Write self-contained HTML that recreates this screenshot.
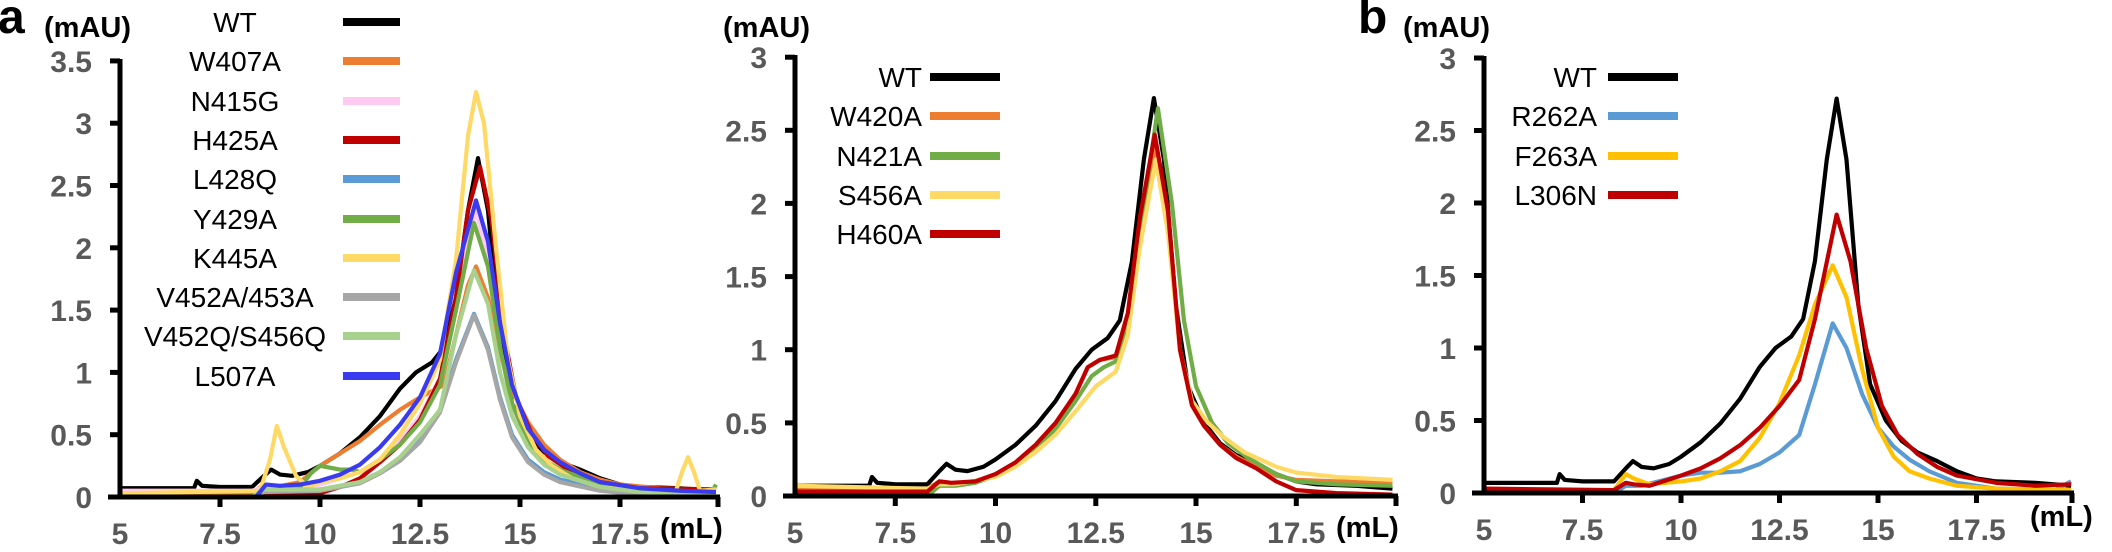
<!DOCTYPE html>
<html><head><meta charset="utf-8"><style>
html,body{margin:0;padding:0;background:#fff;}
svg{display:block}
.tk{font-family:"Liberation Sans",sans-serif;font-weight:bold;font-size:30px;fill:#595959;}
.un{font-family:"Liberation Sans",sans-serif;font-weight:bold;font-size:29px;fill:#000;}
.lg{font-family:"Liberation Sans",sans-serif;font-size:28px;fill:#000;}
.big{font-family:"Liberation Sans",sans-serif;font-weight:bold;font-size:48px;fill:#000;}
polyline{fill:none;stroke-width:4.2;stroke-linejoin:round;vector-effect:non-scaling-stroke;}
.ax line{stroke:#000;stroke-width:5;}
</style></head><body>
<svg width="2112" height="552" viewBox="0 0 2112 552" xmlns="http://www.w3.org/2000/svg">
<text class="big" x="-2" y="33">a</text>
<text class="un" x="44" y="37">(mAU)</text>
<text class="un" x="723" y="37">(mAU)</text>
<text class="big" x="1358" y="33">b</text>
<text class="un" x="1403" y="37">(mAU)</text>

<!-- Panel a curves -->
<g transform="translate(-80,497) scale(40,-124.6)">
<polyline stroke="#000" points="5,.07 6.85,.07 6.92,.13 7.05,.09 7.5,.08 8.3,.08 8.6,.17 8.78,.22 9,.18 9.3,.17 9.7,.2 10,.25 10.5,.35 11,.48 11.5,.65 12,.87 12.4,1 12.8,1.08 13.1,1.2 13.4,1.6 13.7,2.3 13.95,2.72 14.2,2.3 14.5,1.3 14.8,.75 15.2,.5 15.6,.36 16,.28 16.5,.22 17,.15 17.5,.1 18,.08 19,.07 19.9,.05"/>
<polyline stroke="#ed7d31" points="5,.03 8.3,.03 8.6,.1 8.9,.08 9.5,.12 10,.25 10.5,.35 11,.45 11.5,.58 12,.7 12.5,.8 12.8,.85 13.1,.9 13.4,1.3 13.7,1.7 13.9,1.85 14.2,1.6 14.5,1.15 14.8,.85 15.2,.6 15.6,.42 16,.3 16.5,.2 17,.14 17.5,.1 18.5,.07 19.9,.06"/>
<polyline stroke="#ffc9f2" points="5,.05 8.3,.05 8.6,.08 9,.07 10,.1 11,.2 11.5,.3 12,.45 12.5,.65 13,.95 13.4,1.5 13.7,2.1 13.9,2.3 14.2,1.9 14.5,1.2 14.8,.7 15.2,.42 15.6,.28 16,.2 16.5,.14 17.5,.06 19.9,.03"/>
<polyline stroke="#c00000" points="5,0 8.4,0 8.6,.03 10,.03 10.5,.08 11,.15 11.5,.28 12,.42 12.5,.62 13,.95 13.4,1.6 13.7,2.3 14,2.65 14.3,2.2 14.6,1.3 14.9,.8 15.3,.5 15.7,.33 16.2,.22 17,.12 18,.07 19.9,.06"/>
<polyline stroke="#5b9bd5" points="5,0 8.3,0 8.6,.05 10,.06 11,.12 11.5,.2 12,.3 12.5,.45 13,.7 13.4,1.1 13.85,1.47 14.2,1.2 14.5,.8 14.8,.5 15.2,.3 15.6,.2 16,.14 17,.07 18,.03 19.9,0"/>
<polyline stroke="#70ad47" points="5,0 8.3,0 8.6,.05 9.5,.08 9.8,.2 10,.25 10.5,.22 10.8,.22 11,.2 11.5,.3 12,.42 12.5,.6 13,.9 13.4,1.5 13.85,2.2 14.2,1.85 14.5,1.2 14.8,.75 15.2,.45 15.6,.3 16,.22 17,.1 18,.06 19.8,.04 19.9,.1"/>
<polyline stroke="#ffd966" points="5,.03 8.5,.05 8.75,.3 8.92,.57 9.1,.4 9.4,.17 9.7,.08 10,.12 10.5,.15 11,.2 11.5,.3 12,.5 12.5,.75 13,1.1 13.4,1.9 13.7,2.9 13.9,3.25 14.1,3 14.4,2 14.7,1.1 15,.65 15.4,.38 15.8,.25 16.3,.15 17,.08 18,.05 18.9,.05 19.05,.2 19.2,.32 19.35,.2 19.5,.05 19.9,.06"/>
<polyline stroke="#a6a6a6" points="5,0 8.3,0 8.6,.04 10,.05 11,.11 11.5,.19 12,.29 12.5,.44 13,.68 13.4,1.08 13.85,1.46 14.2,1.18 14.5,.78 14.8,.48 15.2,.28 15.6,.18 16,.12 17,.05 18,.02 19.9,0"/>
<polyline stroke="#a9d18e" points="5,0 8.3,0 8.6,.06 10,.06 11,.12 11.5,.2 12,.32 12.5,.5 13,.7 13.4,1.3 13.85,1.82 14.2,1.55 14.5,1 14.8,.65 15.2,.4 15.6,.26 16,.18 17,.08 18,.04 19.9,.02"/>
<polyline stroke="#3a3af0" points="5,0 8.4,0 8.65,.1 9,.09 9.5,.1 10,.13 10.5,.18 11,.26 11.5,.4 12,.58 12.5,.8 13,1.15 13.4,1.8 13.9,2.38 14.2,2.05 14.5,1.4 14.8,.9 15.2,.55 15.6,.38 16,.28 16.5,.19 17,.12 18,.07 19,.05 19.9,.04"/>
</g>
<g class="ax">
<line x1="120" y1="59" x2="120" y2="499"/><line x1="108" y1="497" x2="720" y2="497"/>
<line x1="110" y1="497" x2="120" y2="497"/><line x1="110" y1="434.7" x2="120" y2="434.7"/><line x1="110" y1="372.4" x2="120" y2="372.4"/><line x1="110" y1="310.1" x2="120" y2="310.1"/><line x1="110" y1="247.8" x2="120" y2="247.8"/><line x1="110" y1="185.5" x2="120" y2="185.5"/><line x1="110" y1="123.2" x2="120" y2="123.2"/><line x1="110" y1="60.9" x2="120" y2="60.9"/>
<line x1="220" y1="497" x2="220" y2="507"/><line x1="320" y1="497" x2="320" y2="507"/><line x1="420" y1="497" x2="420" y2="507"/><line x1="520" y1="497" x2="520" y2="507"/><line x1="620" y1="497" x2="620" y2="507"/><line x1="718" y1="497" x2="718" y2="507"/>
</g>
<g class="tk" text-anchor="end">
<text x="92" y="508">0</text><text x="92" y="445.7">0.5</text><text x="92" y="383.4">1</text><text x="92" y="321.1">1.5</text><text x="92" y="258.8">2</text><text x="92" y="196.5">2.5</text><text x="92" y="134.2">3</text><text x="92" y="71.9">3.5</text>
</g>
<g class="tk" text-anchor="middle">
<text x="120" y="544">5</text><text x="220" y="544">7.5</text><text x="320" y="544">10</text><text x="420" y="544">12.5</text><text x="520" y="544">15</text><text x="620" y="544">17.5</text>
</g>
<text class="un" x="660" y="538">(mL)</text>
<g class="lg" text-anchor="middle">
<text x="235" y="32">WT</text><text x="235" y="71">W407A</text><text x="235" y="111">N415G</text><text x="235" y="150">H425A</text><text x="235" y="189">L428Q</text><text x="235" y="229">Y429A</text><text x="235" y="268">K445A</text><text x="235" y="307">V452A/453A</text><text x="235" y="346">V452Q/S456Q</text><text x="235" y="386">L507A</text>
</g>
<g stroke-width="8">
<line x1="343" x2="400" y1="22" y2="22" stroke="#000"/><line x1="343" x2="400" y1="61" y2="61" stroke="#ed7d31"/><line x1="343" x2="400" y1="101" y2="101" stroke="#ffc9f2"/><line x1="343" x2="400" y1="140" y2="140" stroke="#c00000"/><line x1="343" x2="400" y1="179" y2="179" stroke="#5b9bd5"/><line x1="343" x2="400" y1="219" y2="219" stroke="#70ad47"/><line x1="343" x2="400" y1="258" y2="258" stroke="#ffd966"/><line x1="343" x2="400" y1="297" y2="297" stroke="#a6a6a6"/><line x1="343" x2="400" y1="336" y2="336" stroke="#a9d18e"/><line x1="343" x2="400" y1="376" y2="376" stroke="#3a3af0"/>
</g>

<!-- Panel b (middle) -->
<g transform="translate(594.5,496) scale(40.1,-146.3)">
<polyline stroke="#000" points="5,.07 6.85,.07 6.92,.13 7.05,.09 7.5,.08 8.3,.08 8.6,.17 8.78,.22 9,.18 9.3,.17 9.7,.2 10,.25 10.5,.35 11,.48 11.5,.65 12,.87 12.4,1 12.8,1.08 13.1,1.2 13.4,1.6 13.7,2.3 13.95,2.72 14.2,2.3 14.5,1.3 14.8,.75 15.2,.5 15.6,.36 16,.28 16.5,.22 17,.15 17.5,.1 18,.08 19,.07 19.9,.05"/>
<polyline stroke="#ed7d31" points="5,.05 8.3,.05 8.6,.1 8.9,.08 9.5,.1 10,.15 10.5,.22 11,.33 11.5,.48 12,.7 12.3,.88 12.6,.93 13,.95 13.3,1.2 13.6,1.8 14,2.4 14.3,1.9 14.6,1 14.9,.62 15.2,.48 15.6,.35 16,.27 16.5,.2 17,.14 17.5,.11 18.5,.1 19.9,.1"/>
<polyline stroke="#70ad47" points="5,0 8.3,0 8.6,.07 9,.07 9.5,.09 10,.14 10.5,.22 11,.32 11.5,.46 12,.65 12.4,.82 12.7,.88 13,.92 13.3,1.2 13.6,1.8 14.05,2.65 14.4,2 14.7,1.2 15,.75 15.4,.5 15.8,.36 16.3,.26 17,.15 17.5,.1 18.5,.08 19.9,.07"/>
<polyline stroke="#ffd966" points="5,.07 8.3,.05 8.6,.08 9,.08 10,.13 10.5,.2 11,.3 11.5,.42 12,.58 12.5,.75 13,.85 13.3,1.1 13.6,1.7 14,2.3 14.3,1.8 14.6,1 14.9,.65 15.3,.5 15.7,.4 16.2,.3 17,.2 17.5,.16 18.5,.13 19.9,.11"/>
<polyline stroke="#c00000" points="5,.03 8.3,.03 8.6,.1 8.9,.09 9.5,.1 10,.15 10.5,.23 11,.35 11.5,.5 12,.7 12.3,.88 12.6,.93 13,.96 13.3,1.25 13.6,1.9 13.97,2.47 14.3,1.95 14.6,1 14.9,.62 15.2,.48 15.6,.35 16,.26 16.5,.19 17,.1 17.5,.04 18.5,.02 19.9,.01"/>
</g>
<g class="ax">
<line x1="795" y1="55" x2="795" y2="498"/><line x1="783" y1="496" x2="1398" y2="496"/>
<line x1="785" y1="496" x2="795" y2="496"/><line x1="785" y1="422.9" x2="795" y2="422.9"/><line x1="785" y1="349.7" x2="795" y2="349.7"/><line x1="785" y1="276.6" x2="795" y2="276.6"/><line x1="785" y1="203.4" x2="795" y2="203.4"/><line x1="785" y1="130.3" x2="795" y2="130.3"/><line x1="785" y1="57.2" x2="795" y2="57.2"/>
<line x1="895.3" y1="496" x2="895.3" y2="506"/><line x1="995.5" y1="496" x2="995.5" y2="506"/><line x1="1095.8" y1="496" x2="1095.8" y2="506"/><line x1="1196" y1="496" x2="1196" y2="506"/><line x1="1296.3" y1="496" x2="1296.3" y2="506"/><line x1="1396" y1="496" x2="1396" y2="506"/>
</g>
<g class="tk" text-anchor="end">
<text x="767" y="507">0</text><text x="767" y="433.9">0.5</text><text x="767" y="360.7">1</text><text x="767" y="287.6">1.5</text><text x="767" y="214.4">2</text><text x="767" y="141.3">2.5</text><text x="767" y="68.2">3</text>
</g>
<g class="tk" text-anchor="middle">
<text x="795" y="543">5</text><text x="895.3" y="543">7.5</text><text x="995.5" y="543">10</text><text x="1095.8" y="543">12.5</text><text x="1196" y="543">15</text><text x="1296.3" y="543">17.5</text>
</g>
<text class="un" x="1336" y="537">(mL)</text>
<g class="lg" text-anchor="end">
<text x="922" y="87">WT</text><text x="922" y="126">W420A</text><text x="922" y="166">N421A</text><text x="922" y="205">S456A</text><text x="922" y="244">H460A</text>
</g>
<g stroke-width="8">
<line x1="930" x2="1000" y1="77" y2="77" stroke="#000"/><line x1="930" x2="1000" y1="116" y2="116" stroke="#ed7d31"/><line x1="930" x2="1000" y1="156" y2="156" stroke="#70ad47"/><line x1="930" x2="1000" y1="195" y2="195" stroke="#ffd966"/><line x1="930" x2="1000" y1="234" y2="234" stroke="#c00000"/>
</g>

<!-- Panel c -->
<g transform="translate(1287,493) scale(39.4,-145)">
<polyline stroke="#000" points="5,.07 6.85,.07 6.92,.13 7.05,.09 7.5,.08 8.3,.08 8.6,.17 8.78,.22 9,.18 9.3,.17 9.7,.2 10,.25 10.5,.35 11,.48 11.5,.65 12,.87 12.4,1 12.8,1.08 13.1,1.2 13.4,1.6 13.7,2.3 13.95,2.72 14.2,2.3 14.5,1.3 14.8,.75 15.2,.5 15.6,.36 16,.28 16.5,.22 17,.15 17.5,.1 18,.08 19,.07 19.9,.05"/>
<polyline stroke="#5b9bd5" points="5,0 8.3,0 8.6,.05 9,.05 10,.12 10.5,.14 11,.14 11.5,.15 12,.2 12.5,.28 13,.4 13.4,.75 13.85,1.17 14.2,1 14.6,.68 15,.45 15.4,.32 15.8,.23 16.3,.15 17,.07 18,.03 19.5,.02 19.9,.08"/>
<polyline stroke="#ffc000" points="5,.02 8.3,.02 8.6,.13 8.8,.1 9.2,.06 10,.08 10.5,.1 11,.15 11.5,.22 12,.38 12.5,.62 13,.95 13.4,1.3 13.85,1.57 14.2,1.35 14.6,.85 15,.45 15.4,.25 15.8,.15 16.3,.1 17,.05 18,.03 19.9,.02"/>
<polyline stroke="#c00000" points="5,.03 8.3,.02 8.6,.07 8.8,.06 9.2,.05 10,.12 10.5,.17 11,.24 11.5,.33 12,.45 12.5,.6 13,.78 13.4,1.2 13.95,1.92 14.3,1.6 14.7,1 15.1,.6 15.5,.4 16,.27 16.5,.18 17,.12 18,.07 19,.05 19.9,.06"/>
</g>
<g class="ax">
<line x1="1484" y1="56" x2="1484" y2="495"/><line x1="1472" y1="493" x2="2074" y2="493"/>
<line x1="1474" y1="493" x2="1484" y2="493"/><line x1="1474" y1="420.5" x2="1484" y2="420.5"/><line x1="1474" y1="348" x2="1484" y2="348"/><line x1="1474" y1="275.5" x2="1484" y2="275.5"/><line x1="1474" y1="203" x2="1484" y2="203"/><line x1="1474" y1="130.5" x2="1484" y2="130.5"/><line x1="1474" y1="58" x2="1484" y2="58"/>
<line x1="1582.5" y1="493" x2="1582.5" y2="503"/><line x1="1681" y1="493" x2="1681" y2="503"/><line x1="1779.5" y1="493" x2="1779.5" y2="503"/><line x1="1878" y1="493" x2="1878" y2="503"/><line x1="1976.5" y1="493" x2="1976.5" y2="503"/><line x1="2072" y1="493" x2="2072" y2="503"/>
</g>
<g class="tk" text-anchor="end">
<text x="1456" y="504">0</text><text x="1456" y="431.5">0.5</text><text x="1456" y="359">1</text><text x="1456" y="286.5">1.5</text><text x="1456" y="214">2</text><text x="1456" y="141.5">2.5</text><text x="1456" y="69">3</text>
</g>
<g class="tk" text-anchor="middle">
<text x="1484" y="540">5</text><text x="1582.5" y="540">7.5</text><text x="1681" y="540">10</text><text x="1779.5" y="540">12.5</text><text x="1878" y="540">15</text><text x="1976.5" y="540">17.5</text>
</g>
<text class="un" x="2030" y="526">(mL)</text>
<g class="lg" text-anchor="end">
<text x="1597" y="87">WT</text><text x="1597" y="126">R262A</text><text x="1597" y="166">F263A</text><text x="1597" y="205">L306N</text>
</g>
<g stroke-width="8">
<line x1="1608" x2="1678" y1="77" y2="77" stroke="#000"/><line x1="1608" x2="1678" y1="116" y2="116" stroke="#5b9bd5"/><line x1="1608" x2="1678" y1="156" y2="156" stroke="#ffc000"/><line x1="1608" x2="1678" y1="195" y2="195" stroke="#c00000"/>
</g>
</svg>
</body></html>
